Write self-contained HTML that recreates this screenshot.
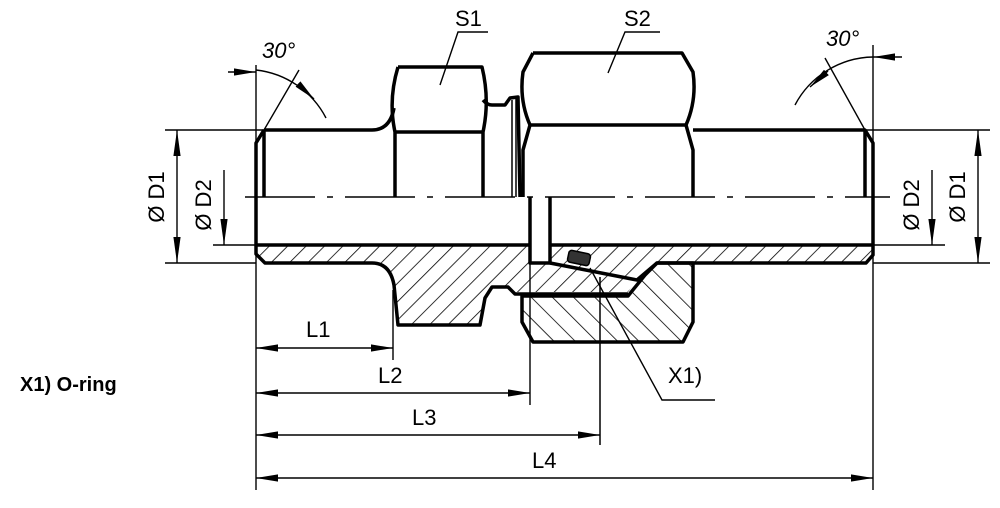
<!DOCTYPE html>
<html><head><style>body{margin:0;background:#fff}svg{display:block}text{font-family:"Liberation Sans",Arial,sans-serif;fill:#000}</style></head>
<body>
<svg width="1000" height="508" viewBox="0 0 1000 508" xmlns="http://www.w3.org/2000/svg">
<defs>
<pattern id="h1" width="13" height="13" patternUnits="userSpaceOnUse" patternTransform="rotate(45)"><line x1="0" y1="0" x2="0" y2="13" stroke="#000" stroke-width="1.6"/></pattern>
<pattern id="h2" width="15" height="15" patternUnits="userSpaceOnUse" patternTransform="rotate(-45)"><line x1="0" y1="0" x2="0" y2="15" stroke="#000" stroke-width="1.6"/></pattern>
<marker id="a" viewBox="0 0 10 10" refX="10" refY="5" markerWidth="22" markerHeight="9" markerUnits="userSpaceOnUse" orient="auto-start-reverse" preserveAspectRatio="none"><path d="M0,1 L10,5 L0,9Z" fill="#000"/></marker>
<marker id="b" viewBox="0 0 10 10" refX="10" refY="5" markerWidth="26" markerHeight="9" markerUnits="userSpaceOnUse" orient="auto-start-reverse" preserveAspectRatio="none"><path d="M0,1 L10,5 L0,9Z" fill="#000"/></marker>
</defs>

<path d="M256,245 L530,245 L530,263 L550,263 L637,280 L628,292 L515,292 L508,287 L492,287 L486,298 L481,325 L398,325 L393,285 Q388,263 372,263 L265,263 L256,254 Z" fill="url(#h1)"/>
<path d="M550,245 L873,245 L873,255 L866,263 L657,263 L637,280 L550,263 Z" fill="url(#h1)"/>
<path d="M522,296 L628,296 L645,275 L657,263 L693,263 L693,322 L683,342 L533,342 L522,322 Z" fill="url(#h2)" stroke="#000" stroke-width="3.5" stroke-linejoin="round"/>
<rect x="530" y="197" width="20" height="66" fill="#fff"/>

<g fill="none" stroke="#000" stroke-width="3.5" stroke-linejoin="round">
<path d="M264,130 L372,130 Q390,130 394,108"/>
<path d="M264,130 L256,143 L256,254 L265,263 L372,263 Q390,263 394,285 L398,325 L480,325 L485,298 L492,287 L508,287 L515,294 L628,294"/>
<line x1="264" y1="130" x2="264" y2="197"/>
<line x1="256" y1="245" x2="530" y2="245"/>
<path d="M398,67 L482,67 Q490,100 483,132 L483,197 M398,67 Q388,100 395,132 L395,197"/>
<line x1="395" y1="132" x2="483" y2="132"/>
<path d="M483,100 Q487,105 492,105 L505,105 L510,98 L518,97 L520,197"/>
<line x1="512" y1="100" x2="512" y2="197" stroke-width="1.5"/>
<line x1="516" y1="98" x2="516" y2="197" stroke-width="1.5"/>
<path d="M533,53 L682,53 L693,72 Q697,100 686,125 L693,150 L693,197 M533,53 L523,72 Q519,100 530,125 L523,150 L523,197"/>
<line x1="530" y1="125" x2="686" y2="125"/>
<path d="M530,197 L530,263 L550,263 L550,197"/>
<path d="M693,130 L865,130 L873,143 L873,255 L866,263 L657,263 L637,280 L550,263"/>
<line x1="865" y1="130" x2="865" y2="197"/>
<line x1="550" y1="245" x2="873" y2="245"/>
</g>
<rect x="568" y="252" width="22" height="12" rx="3" fill="#333" stroke="#000" stroke-width="1.5" transform="rotate(12 579 258)"/>
<line x1="600" y1="277" x2="600" y2="445" stroke="#000" stroke-width="1.5"/>

<path d="M245,197 H890" stroke="#000" stroke-width="1.6" stroke-dasharray="70,12,6,12" fill="none"/>

<g stroke="#000" stroke-width="1.4" fill="none">
<line x1="165" y1="130" x2="264" y2="130"/><line x1="165" y1="263" x2="256" y2="263"/>
<line x1="213" y1="245" x2="256" y2="245"/>
<line x1="865" y1="130" x2="990" y2="130"/><line x1="873" y1="263" x2="990" y2="263"/>
<line x1="873" y1="245" x2="945" y2="245"/>
<line x1="256" y1="65" x2="256" y2="490"/>
<line x1="393" y1="290" x2="393" y2="360"/>
<line x1="530" y1="263" x2="530" y2="405"/>
<line x1="873" y1="45" x2="873" y2="490"/>
<line x1="177" y1="130" x2="177" y2="263" marker-start="url(#b)" marker-end="url(#b)"/>
<line x1="224" y1="170" x2="224" y2="245" marker-end="url(#b)"/>
<line x1="978" y1="130" x2="978" y2="263" marker-start="url(#b)" marker-end="url(#b)"/>
<line x1="932" y1="170" x2="932" y2="245" marker-end="url(#b)"/>
<line x1="256" y1="348" x2="393" y2="348" marker-start="url(#a)" marker-end="url(#a)"/>
<line x1="256" y1="393" x2="530" y2="393" marker-start="url(#a)" marker-end="url(#a)"/>
<line x1="256" y1="435" x2="600" y2="435" marker-start="url(#a)" marker-end="url(#a)"/>
<line x1="256" y1="478" x2="873" y2="478" marker-start="url(#a)" marker-end="url(#a)"/>
<line x1="264" y1="130" x2="299" y2="70"/>
<path d="M228,72 L256,72" marker-end="url(#a)"/>
<path d="M256,70 A 90 90 0 0 1 326,118"/>
<path d="M298,84 L314,99" marker-end="url(#a)"/>
<line x1="865" y1="130" x2="825" y2="58"/>
<path d="M902,57 L873,57" marker-end="url(#a)"/>
<path d="M873,57 A 90 90 0 0 0 795,105"/>
<path d="M828,71 L810,87" marker-end="url(#a)"/>
<path d="M440,85 L458,32 L488,32"/>
<path d="M608,73 L625,32 L660,32"/>
<path d="M590,268 L662,400 L715,400"/>
</g>

<g font-size="22">
<text x="455" y="26">S1</text>
<text x="624" y="26">S2</text>
<text x="262" y="58" font-style="italic">30°</text>
<text x="826" y="46" font-style="italic">30°</text>
<text x="306" y="337">L1</text>
<text x="378" y="383">L2</text>
<text x="412" y="425">L3</text>
<text x="532" y="468">L4</text>
<text x="668" y="383">X1)</text>
<text x="20" y="391" font-weight="bold" font-size="20">X1) O-ring</text>
<text transform="translate(164,197) rotate(-90)" text-anchor="middle">Ø D1</text>
<text transform="translate(211,205) rotate(-90)" text-anchor="middle">Ø D2</text>
<text transform="translate(919,205) rotate(-90)" text-anchor="middle">Ø D2</text>
<text transform="translate(965,197) rotate(-90)" text-anchor="middle">Ø D1</text>
</g>
</svg>
</body></html>
